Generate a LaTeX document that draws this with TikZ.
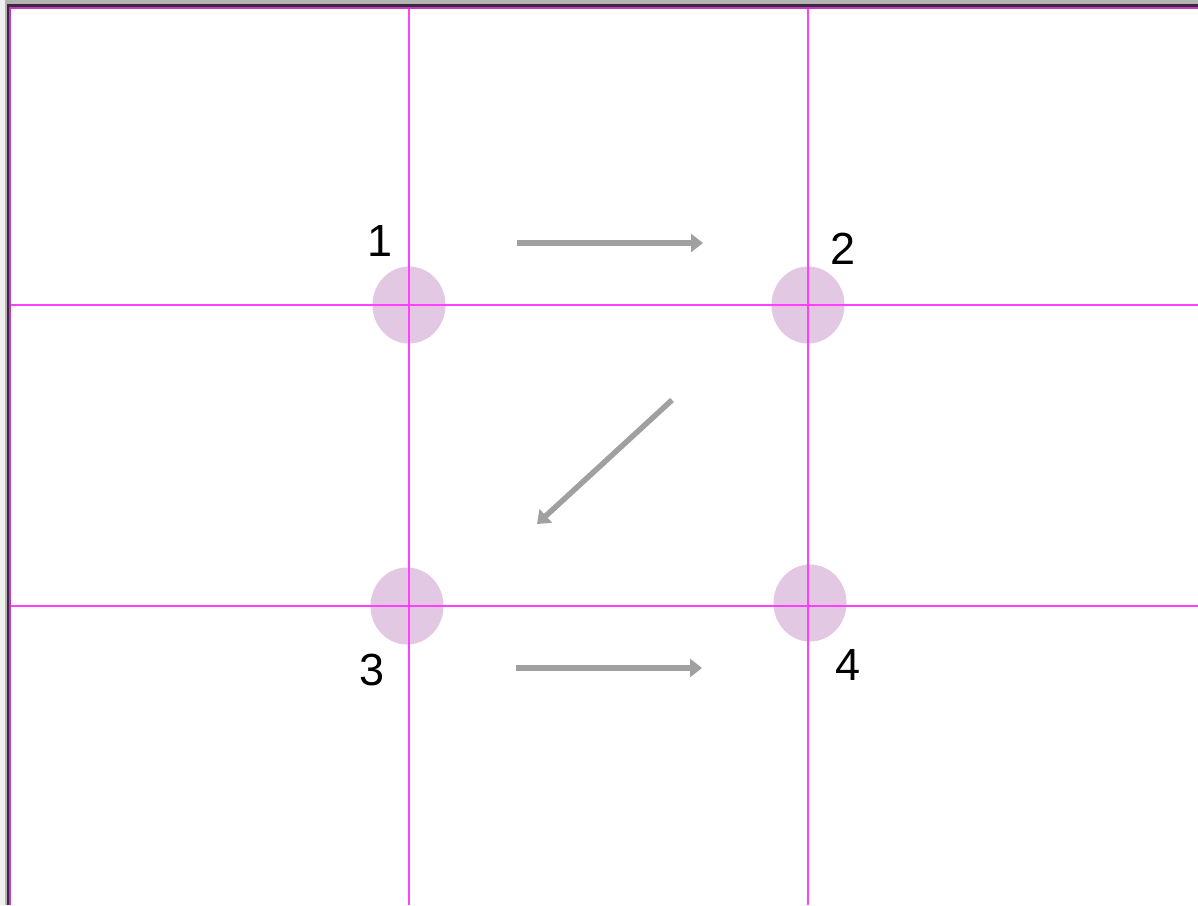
\documentclass[tikz,border=0pt]{standalone}
\usepackage{fontspec}
\setmainfont{Liberation Sans}
\usetikzlibrary{arrows.meta,shapes.geometric}
\definecolor{bgray}{HTML}{F0F0F0}
\definecolor{fgray}{HTML}{B4B4B4}
\definecolor{fdark}{HTML}{3C283C}
\definecolor{fmag}{HTML}{C838C8}
\definecolor{gridmag}{HTML}{FF40FF}
\definecolor{dotfill}{HTML}{E2C8E2}
\definecolor{arrgray}{HTML}{A0A0A0}
\tikzset{
  gridline/.style={draw=gridmag, line width=1.2pt},
  dot/.style={ellipse, fill=dotfill, minimum width=73, minimum height=77, inner sep=0pt},
  lbl/.style={font=\fontsize{45}{50}\selectfont, text=black, inner sep=0pt},
  flow/.style={draw=arrgray, line width=5.5pt, -{Triangle[length=12, width=18]}}
}
\begin{document}
\begin{tikzpicture}[x=1pt, y=-1pt]
\useasboundingbox (0,0) rectangle (1198,905);
\fill[bgray] (0,0) rectangle (1198,905);
\fill[fgray] (5,0) rectangle (1198,905);
\fill[fdark] (7,4) rectangle (1198,905);
\fill[fmag] (9,7) rectangle (1198,905);
\fill[white] (11,9) rectangle (1198,905);
% circles
\node[dot] (c1) at (409,305) {};
\node[dot] (c2) at (808,305) {};
\node[dot] (c3) at (407,606) {};
\node[dot] (c4) at (810,603) {};
% grid
\draw[gridline] (409,9) -- (409,905);
\draw[gridline] (808,9) -- (808,905);
\draw[gridline] (11,305) -- (1198,305);
\draw[gridline] (11,606) -- (1198,606);
% labels
\node[lbl] (l1) at (380,241) {1};
\node[lbl] (l2) at (843,249) {2};
\node[lbl] (l3) at (372,670) {3};
\node[lbl] (l4) at (848,665) {4};
% arrows
\coordinate (a1s) at (517,243);
\coordinate (a1e) at (703,243);
\coordinate (a2s) at (672,400);
\coordinate (a2e) at (537,524);
\coordinate (a3s) at (516,668);
\coordinate (a3e) at (702,668);
\draw[flow] (a1s) -- (a1e);
\draw[flow] (a2s) -- (a2e);
\draw[flow] (a3s) -- (a3e);
\end{tikzpicture}
\end{document}
